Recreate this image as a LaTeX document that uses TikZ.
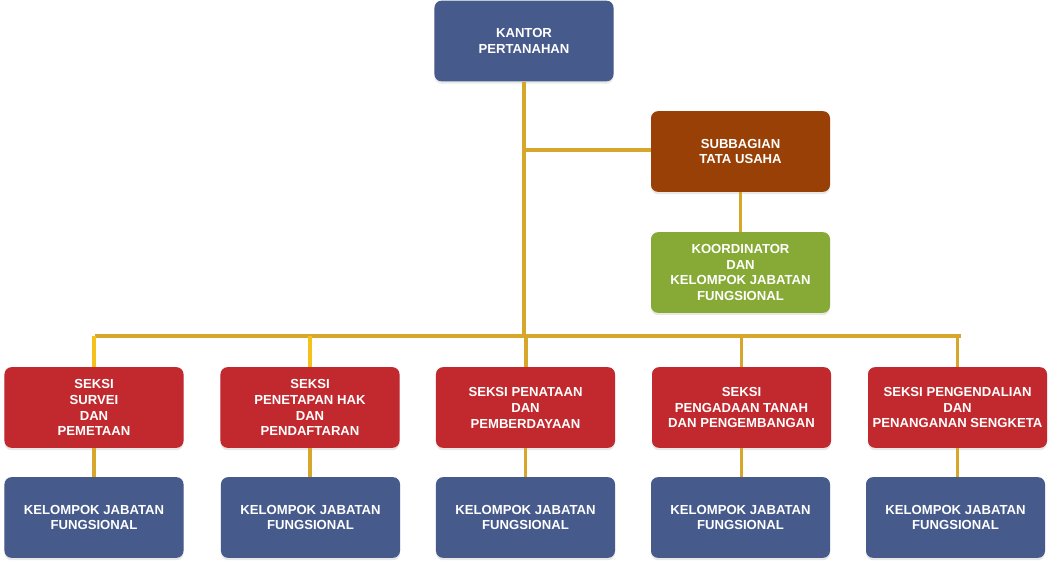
\documentclass[tikz,border=0pt]{standalone}
\usepackage{fontspec}
\setmainfont{Liberation Sans}
\usepackage{xcolor}
\usetikzlibrary{positioning,calc,shadows}

\definecolor{unitblue}{HTML}{475A8C}
\definecolor{unitbrown}{HTML}{984006}
\definecolor{unitgreen}{HTML}{86AA35}
\definecolor{unitred}{HTML}{C1292E}
\definecolor{linkgold}{HTML}{D6A72B}
\definecolor{linkyellow}{HTML}{F5C21B}

\begin{document}
\begin{tikzpicture}[x=0.03cm,y=-0.03cm,
  unit/.style={rounded corners=6pt,minimum width=5.37cm,minimum height=2.42cm,inner sep=0pt,
    align=center,text=white,font=\bfseries\fontsize{11.2}{13.6}\selectfont,
    drop shadow={shadow xshift=0pt,shadow yshift=-2pt,opacity=0.18}},
  head/.style={unit,fill=unitblue},
  staff/.style={unit,fill=unitbrown},
  coord/.style={unit,fill=unitgreen},
  section/.style={unit,fill=unitred},
  group/.style={unit,fill=unitblue},
  link/.style={draw=linkgold,line width=2.6pt},
  drop/.style={link,xshift=0.06cm}]
  \useasboundingbox (0,0) rectangle (1052,567);
  % top of the chart
  \node[head] (kantor) at (524,41) {KANTOR\\PERTANAHAN};
  \node[staff] (tu) at (740.5,151.5) {SUBBAGIAN\\TATA USAHA};
  \node[coord] (koord) at (740.5,272.5) {KOORDINATOR\\DAN\\KELOMPOK JABATAN\\FUNGSIONAL};
  \coordinate (bus) at (524,336);
  % sections
  \node[section] (s1) at (94,407.5) {SEKSI\\SURVEI\\DAN\\PEMETAAN};
  \node[section] (s2) at (310,407.5) {SEKSI\\PENETAPAN HAK\\DAN\\PENDAFTARAN};
  \node[section] (s3) at (525.5,407.5) {SEKSI PENATAAN\\DAN\\PEMBERDAYAAN};
  \node[section] (s4) at (741.5,407.5) {SEKSI\\PENGADAAN TANAH\\DAN PENGEMBANGAN};
  \node[section] (s5) at (957.5,407.5) {SEKSI PENGENDALIAN\\DAN\\PENANGANAN SENGKETA};
  % functional groups
  \node[group] (k1) at (94,517.5) {KELOMPOK JABATAN\\FUNGSIONAL};
  \node[group] (k2) at (310.5,517.5) {KELOMPOK JABATAN\\FUNGSIONAL};
  \node[group] (k3) at (525.5,517.5) {KELOMPOK JABATAN\\FUNGSIONAL};
  \node[group] (k4) at (740.5,517.5) {KELOMPOK JABATAN\\FUNGSIONAL};
  \node[group] (k5) at (955.5,517.5) {KELOMPOK JABATAN\\FUNGSIONAL};
  % connectors
  \draw[drop] (kantor.south) -- (bus);
  \draw[link] ($(kantor.south |- 0,150)+(2,0)$) -- (tu.west |- 0,150);
  \draw[link] (tu.south) -- (koord.north);
  \draw[link] ($(s1.north |- bus)+(0.7,0)$) -- ($(s5.north |- bus)+(3.3,0)$);
  \draw[drop,draw=linkyellow] (s1.north |- bus) -- (s1.north);
  \draw[drop,draw=linkyellow] (s2.north |- bus) -- (s2.north);
  \draw[link] ($(s3.north |- bus)+(0.5,0)$) -- ($(s3.north)+(0.5,0)$);
  \draw[link] (s4.north |- bus) -- (s4.north);
  \draw[drop] (s5.north |- bus) -- (s5.north);
  \foreach \i in {1,2,5}
    \draw[drop] (s\i.south) -- (s\i.south |- k\i.north);
  \foreach \i in {3,4}
    \draw[link] (s\i.south) -- (s\i.south |- k\i.north);
\end{tikzpicture}
\end{document}
